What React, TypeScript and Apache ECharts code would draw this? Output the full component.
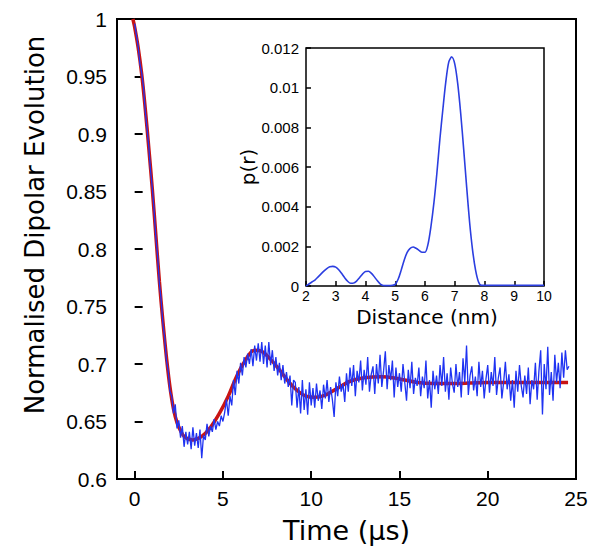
import React, { useEffect, useRef } from "react";
import * as echarts from "echarts";

// ---------- Main plot data ----------
// Experimental dipolar evolution (blue), sampled every 0.1 µs from 0 µs
const TRACE_T0 = 0;
const TRACE_DT = 0.1;
const traceValues = [
  0.996, 0.986, 0.976, 0.961, 0.953, 0.941, 0.92, 0.905, 0.889, 0.868, 0.853,
  0.834, 0.81, 0.794, 0.77, 0.756, 0.735, 0.723, 0.703, 0.694, 0.676,
  0.672, 0.657, 0.665, 0.644, 0.651, 0.636, 0.646, 0.628, 0.641, 0.63,
  0.641, 0.626, 0.645, 0.629, 0.64, 0.627, 0.643, 0.618, 0.638, 0.634,
  0.648, 0.637, 0.646, 0.641, 0.652, 0.643, 0.65, 0.646, 0.655, 0.65,
  0.658, 0.669, 0.655, 0.672, 0.664, 0.686, 0.673, 0.694, 0.683, 0.701,
  0.69, 0.706, 0.697, 0.709, 0.7, 0.713, 0.698, 0.716, 0.703, 0.718,
  0.702, 0.719, 0.7, 0.716, 0.697, 0.719, 0.699, 0.712, 0.694, 0.706,
  0.69, 0.701, 0.686, 0.699, 0.683, 0.693, 0.68, 0.69, 0.664, 0.686,
  0.684, 0.662, 0.68, 0.657, 0.686, 0.66, 0.678, 0.656, 0.684, 0.664,
  0.679, 0.662, 0.683, 0.668, 0.677, 0.661, 0.682, 0.67, 0.686, 0.667,
  0.68, 0.669, 0.654, 0.684, 0.672, 0.689, 0.676, 0.683, 0.667, 0.692,
  0.676, 0.697, 0.681, 0.699, 0.672, 0.694, 0.684, 0.703, 0.677, 0.695,
  0.682, 0.706, 0.676, 0.691, 0.698, 0.674, 0.7, 0.683, 0.708, 0.68,
  0.694, 0.711, 0.678, 0.699, 0.686, 0.703, 0.671, 0.697, 0.68, 0.692,
  0.676, 0.7, 0.684, 0.668, 0.695, 0.679, 0.702, 0.674, 0.688, 0.681,
  0.697, 0.672, 0.689, 0.679, 0.703, 0.67, 0.686, 0.662, 0.694, 0.678,
  0.69, 0.674, 0.699, 0.681, 0.706, 0.676, 0.692, 0.669, 0.697, 0.683,
  0.675, 0.7, 0.68, 0.693, 0.671, 0.705, 0.684, 0.716, 0.673, 0.69,
  0.698, 0.677, 0.689, 0.672, 0.702, 0.68, 0.694, 0.67, 0.687, 0.699,
  0.675, 0.693, 0.681, 0.706, 0.673, 0.688, 0.697, 0.67, 0.684, 0.702,
  0.678, 0.691, 0.668, 0.686, 0.662, 0.694, 0.676, 0.699, 0.681, 0.671,
  0.69, 0.674, 0.697, 0.665, 0.686, 0.678, 0.701, 0.669, 0.694, 0.712,
  0.656, 0.7, 0.678, 0.715, 0.673, 0.693, 0.668, 0.708, 0.684, 0.701,
  0.679, 0.71, 0.688, 0.712, 0.695, 0.698,
];

// Fitted curve (red)
const fitTime = [
  -0.1, 0, 0.2, 0.4, 0.6, 0.8, 1.0, 1.2, 1.4, 1.6, 1.8, 2.0, 2.2, 2.4, 2.6,
  2.8, 3.0, 3.3, 3.8, 4.3, 4.8, 5.3, 5.8, 6.3, 6.8, 7.2, 7.7, 8.2, 8.7, 9.2,
  9.7, 10.2, 10.8, 11.5, 12.2, 13.0, 14.0, 15.0, 16.0, 17.0, 18.0, 20.0, 22.0,
  24.55,
];
const fitValues = [
  1.0, 0.993, 0.975, 0.952, 0.922, 0.888, 0.852, 0.812, 0.772, 0.737, 0.706,
  0.68, 0.661, 0.649, 0.642, 0.637, 0.635, 0.634, 0.637, 0.645, 0.657, 0.672,
  0.69, 0.704, 0.712, 0.711, 0.704, 0.695, 0.685, 0.677, 0.672, 0.671, 0.673,
  0.679, 0.685, 0.688, 0.689, 0.687, 0.684, 0.683, 0.683, 0.684, 0.684, 0.684,
];

const mainXTicks = [0, 5, 10, 15, 20, 25];
const mainYTicks = [0.6, 0.65, 0.7, 0.75, 0.8, 0.85, 0.9, 0.95, 1];

// ---------- Inset data: distance distribution ----------
const DIST_R0 = 2;
const DIST_DR = 0.1;
const distValues = [
  0.0, 0.0001, 0.0002, 0.0003, 0.00045, 0.0006, 0.00075, 0.00088, 0.00097,
  0.00099, 0.00095, 0.00082, 0.00063, 0.00042, 0.00024, 0.00014, 0.00015,
  0.00025, 0.00042, 0.0006, 0.00073, 0.00074, 0.00064, 0.00046, 0.00026,
  0.0001, 0.00003, 0.00002, 0.00002, 0.00003, 0.00008, 0.00035, 0.0008,
  0.0013, 0.0017, 0.0019, 0.00197, 0.0019, 0.0018, 0.0017, 0.0017, 0.0021,
  0.003, 0.0042, 0.0057, 0.0074, 0.0089, 0.0103, 0.0113, 0.01155, 0.0112,
  0.0102, 0.0087, 0.0069, 0.005, 0.0032, 0.0018, 0.0008, 0.0002, 0.00003,
  0.00003, 0.00003, 0.00003, 0.00003, 0.00003, 0.00003, 0.00003, 0.00003,
  0.00003, 0.00003, 0.00003, 0.00003, 0.00003, 0.00003, 0.00003, 0.00003,
  0.00003, 0.00003, 0.00003, 0.00003, 0.00003,
];
const insetXTicks = [2, 3, 4, 5, 6, 7, 8, 9, 10];
const insetYTicks = [0, 0.002, 0.004, 0.006, 0.008, 0.01, 0.012];

const LABEL_FONT = '"Liberation Sans", Arial, sans-serif';
const TITLE_FONT = '"DejaVu Sans", sans-serif';

export default function App() {
  const ref = useRef<HTMLDivElement>(null);

  useEffect(() => {
    if (!ref.current) return;
    const chart = echarts.init(ref.current, undefined, { renderer: "svg" });

    const traceData = traceValues.map((v, i) => [
      +(TRACE_T0 + i * TRACE_DT).toFixed(2),
      v,
    ]);
    const fitData = fitTime.map((t, i) => [t, fitValues[i]]);
    const distData = distValues.map((v, i) => [
      +(DIST_R0 + i * DIST_DR).toFixed(2),
      v,
    ]);

    chart.setOption({
      animation: false,
      backgroundColor: "#fff",
      grid: [
        {
          left: 117,
          top: 19,
          width: 459,
          height: 460,
          show: true,
          borderColor: "#000",
          borderWidth: 2,
          backgroundColor: "transparent",
          containLabel: false,
        },
        {
          left: 306,
          top: 48,
          width: 238,
          height: 238,
          show: true,
          borderColor: "#000",
          borderWidth: 1.5,
          backgroundColor: "#fff",
          containLabel: false,
          z: 5,
        },
      ],
      xAxis: [
        {
          gridIndex: 0,
          type: "value",
          min: -1,
          max: 25,
          axisLine: { show: false },
          splitLine: { show: false },
          axisTick: {
            show: true,
            inside: true,
            length: 8,
            customValues: mainXTicks.slice(0, 5),
            lineStyle: { color: "#000", width: 2 },
          },
          axisLabel: {
            customValues: mainXTicks,
            margin: 9,
            color: "#000",
            fontSize: 21,
            fontFamily: LABEL_FONT,
            showMinLabel: true,
            showMaxLabel: true,
          },
        },
        {
          gridIndex: 1,
          type: "value",
          min: 2,
          max: 10,
          axisLine: { show: false },
          splitLine: { show: false },
          axisTick: {
            show: true,
            inside: true,
            length: 5,
            customValues: insetXTicks,
            lineStyle: { color: "#000", width: 1.5 },
          },
          axisLabel: {
            customValues: insetXTicks,
            margin: 3,
            color: "#000",
            fontSize: 14,
            fontFamily: LABEL_FONT,
          },
          z: 6,
        },
      ],
      yAxis: [
        {
          gridIndex: 0,
          type: "value",
          min: 0.6,
          max: 1,
          axisLine: { show: false },
          splitLine: { show: false },
          axisTick: {
            show: true,
            inside: true,
            length: 8,
            customValues: mainYTicks,
            lineStyle: { color: "#000", width: 2 },
          },
          axisLabel: {
            customValues: mainYTicks,
            margin: 10,
            color: "#000",
            fontSize: 21,
            fontFamily: LABEL_FONT,
          },
        },
        {
          gridIndex: 1,
          type: "value",
          min: 0,
          max: 0.012,
          axisLine: { show: false },
          splitLine: { show: false },
          axisTick: {
            show: true,
            inside: true,
            length: 5,
            customValues: insetYTicks,
            lineStyle: { color: "#000", width: 1.5 },
          },
          axisLabel: {
            customValues: insetYTicks,
            margin: 7,
            color: "#000",
            fontSize: 15,
            fontFamily: LABEL_FONT,
          },
          z: 6,
        },
      ],
      series: [
        {
          type: "line",
          xAxisIndex: 0,
          yAxisIndex: 0,
          data: fitData,
          smooth: 0.4,
          showSymbol: false,
          lineStyle: { color: "#c81414", width: 3.5 },
          z: 2,
        },
        {
          type: "line",
          xAxisIndex: 0,
          yAxisIndex: 0,
          data: traceData,
          showSymbol: false,
          lineStyle: { color: "#1f33f2", width: 1.3 },
          z: 3,
        },
        {
          type: "line",
          xAxisIndex: 1,
          yAxisIndex: 1,
          data: distData,
          smooth: 0.3,
          showSymbol: false,
          lineStyle: { color: "#2b3ee0", width: 1.6 },
          z: 7,
        },
      ],
      graphic: [
        {
          type: "text",
          x: 35,
          y: 225,
          rotation: Math.PI / 2,
          style: {
            text: "Normalised Dipolar Evolution",
            fontSize: 26,
            fontFamily: TITLE_FONT,
            fill: "#000",
            align: "center",
            verticalAlign: "middle",
          },
        },
        {
          type: "text",
          x: 346.5,
          y: 530,
          style: {
            text: "Time (\u03bcs)",
            fontSize: 27,
            fontFamily: TITLE_FONT,
            fill: "#000",
            align: "center",
            verticalAlign: "middle",
          },
        },
        {
          type: "text",
          x: 248,
          y: 167,
          rotation: Math.PI / 2,
          style: {
            text: "p(r)",
            fontSize: 20,
            fontFamily: TITLE_FONT,
            fill: "#000",
            align: "center",
            verticalAlign: "middle",
          },
        },
        {
          type: "text",
          x: 427,
          y: 317,
          style: {
            text: "Distance (nm)",
            fontSize: 20,
            fontFamily: TITLE_FONT,
            fill: "#000",
            align: "center",
            verticalAlign: "middle",
          },
        },
      ],
    });

    return () => chart.dispose();
  }, []);

  return (
    <div
      ref={ref}
      style={{ position: "fixed", left: 0, top: 0, width: 601, height: 558 }}
    />
  );
}
